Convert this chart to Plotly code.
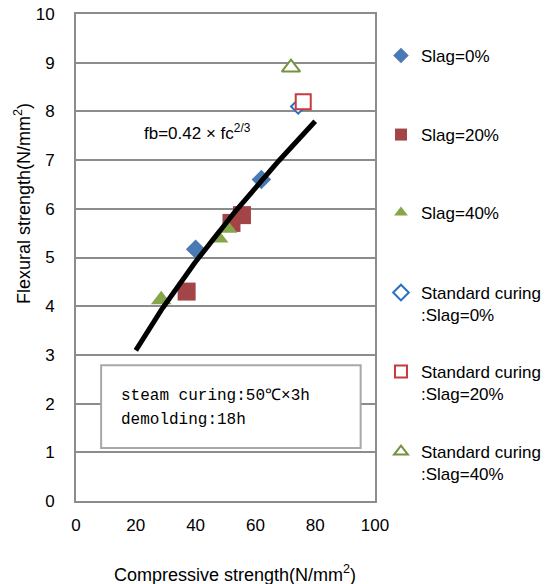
import numpy as np
import plotly.graph_objects as go

# Steam-cured specimens (filled markers)
slag0_fc = [40.0, 62.0]
slag0_fb = [5.17, 6.6]
slag20_fc = [37.0, 52.0, 55.5]
slag20_fb = [4.3, 5.71, 5.87]
slag40_fc = [28.5, 47.5, 50.5]
slag40_fb = [4.13, 5.4, 5.6]

# Standard-cured specimens (open markers)
std0_fc = [74.3]
std0_fb = [8.1]
std20_fc = [76.0]
std20_fb = [8.2]
std40_fc = [71.9]
std40_fb = [8.9]

# Fit curve fb = 0.42 x fc^(2/3)
fit_coef = 0.42
fit_exp = 2.0 / 3.0
fit_fc_range = [20, 80]

x_ticks = [0, 20, 40, 60, 80, 100]
y_ticks = list(range(0, 11))

FONT = "Liberation Sans, Arial, sans-serif"
GRID = "#8c8c8c"

fit_fc = np.linspace(fit_fc_range[0], fit_fc_range[1], 121)
fit_fb = fit_coef * fit_fc ** fit_exp

fig = go.Figure()

fig.add_trace(go.Scatter(
    x=slag0_fc, y=slag0_fb, mode="markers", name="Slag=0%", legend="legend",
    marker=dict(symbol="diamond", size=15, color="#4a7ab4")))
fig.add_trace(go.Scatter(
    x=slag20_fc, y=slag20_fb, mode="markers", name="Slag=20%", legend="legend2",
    marker=dict(symbol="square", size=18, color="#a34446")))
fig.add_trace(go.Scatter(
    x=slag40_fc, y=slag40_fb, mode="markers", name="Slag=40%", legend="legend3",
    marker=dict(symbol="triangle-up", size=18, color="#87a64c")))

fig.add_trace(go.Scatter(
    x=fit_fc, y=fit_fb, mode="lines", showlegend=False, hoverinfo="skip",
    line=dict(color="black", width=5)))

fig.add_trace(go.Scatter(
    x=std0_fc, y=std0_fb, mode="markers", name="Standard curing<br>:Slag=0%",
    legend="legend4",
    marker=dict(symbol="diamond", size=11, color="white",
                line=dict(color="#2a6fc4", width=2))))
fig.add_trace(go.Scatter(
    x=std20_fc, y=std20_fb, mode="markers", name="Standard curing<br>:Slag=20%",
    legend="legend5",
    marker=dict(symbol="square", size=15, color="white",
                line=dict(color="#c83a3c", width=2))))
fig.add_trace(go.Scatter(
    x=std40_fc, y=std40_fb, mode="markers", name="Standard curing<br>:Slag=40%",
    legend="legend6",
    marker=dict(symbol="triangle-up", size=16, color="white",
                line=dict(color="#77923e", width=2))))

# Curing-condition note box
fig.add_shape(type="rect", xref="x", yref="y", x0=8.4, x1=95.2, y0=1.09, y1=2.79,
              line=dict(color="#a8a8a8", width=2), fillcolor="white", layer="above")

annotations = [
    dict(x=14.4, y=2.16, xref="x", yref="y", xanchor="left", yanchor="middle",
         text="steam curing:50℃×3h", showarrow=False,
         font=dict(family="Liberation Mono, monospace", size=16, color="black")),
    dict(x=14.4, y=1.66, xref="x", yref="y", xanchor="left", yanchor="middle",
         text="demolding:18h", showarrow=False,
         font=dict(family="Liberation Mono, monospace", size=16, color="black")),
    dict(x=22.0, y=7.58, xref="x", yref="y", xanchor="left", yanchor="middle",
         text="fb=0.42 × fc<sup>2/3</sup>", showarrow=False,
         font=dict(family=FONT, size=17, color="black")),
    dict(x=0.532, y=-0.148, xref="paper", yref="paper", xanchor="center",
         yanchor="middle", text="Compressive strength(N/mm<sup>2</sup>)",
         showarrow=False, font=dict(family=FONT, size=18, color="black")),
    dict(x=-0.177, y=0.61, xref="paper", yref="paper", xanchor="center",
         yanchor="middle", text="Flexural strength(N/mm<sup>2</sup>)", textangle=-90,
         showarrow=False, font=dict(family=FONT, size=18, color="black")),
]

# One legend box per series so each entry sits at its own height
legend_tops = [0.9507, 0.7885, 0.6283, 0.4641, 0.3018, 0.1376]
legend_style = dict(
    x=1.02, xanchor="left", yanchor="top", valign="top", itemsizing="constant",
    font=dict(family=FONT, size=17, color="black"),
    bgcolor="rgba(0,0,0,0)", itemclick=False, itemdoubleclick=False,
)
legend_layout = {}
for i, top in enumerate(legend_tops):
    key = "legend" if i == 0 else f"legend{i + 1}"
    legend_layout[key] = dict(y=top, **legend_style)

fig.update_layout(
    width=557, height=584,
    margin=dict(l=76, r=182, t=14, b=83, autoexpand=False),
    paper_bgcolor="white", plot_bgcolor="white",
    font=dict(family=FONT, size=17, color="black"),
    annotations=annotations,
    showlegend=True,
    **legend_layout,
)

fig.update_xaxes(
    range=[0, 100], tickvals=x_ticks, ticktext=[str(v) for v in x_ticks],
    showgrid=False, zeroline=False, showline=True, linecolor=GRID, linewidth=2,
    mirror=True, ticks="", ticklabelstandoff=8,
    tickfont=dict(family=FONT, size=17, color="black"),
)
fig.update_yaxes(
    range=[0, 10], tickvals=y_ticks, ticktext=[str(v) for v in y_ticks],
    showgrid=True, gridcolor=GRID, gridwidth=2, zeroline=False,
    showline=True, linecolor=GRID, linewidth=2, mirror=True,
    ticks="", ticklabelstandoff=16,
    tickfont=dict(family=FONT, size=17, color="black"),
)

fig.write_html("out.html")
